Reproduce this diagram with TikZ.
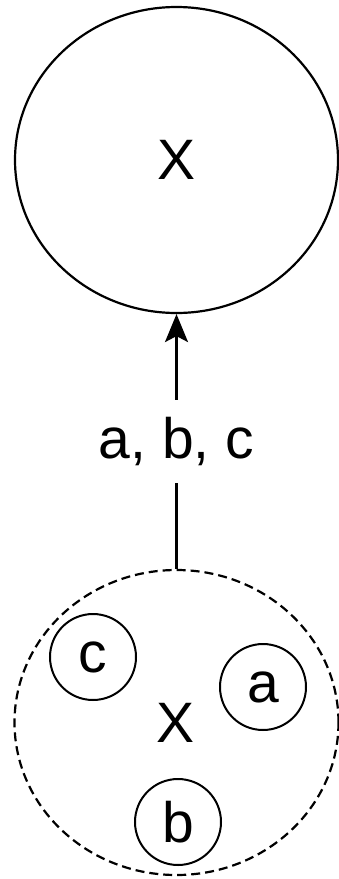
\documentclass[tikz,border=0pt]{standalone}
\usepackage{fontspec}
\setmainfont{Liberation Sans}
\usetikzlibrary{shapes.geometric,arrows.meta}
\begin{document}
\begin{tikzpicture}[x=1pt,y=-1pt,
  every node/.style={font=\fontsize{57}{60}\selectfont},
  bigell/.style={draw, ellipse, line width=2.2pt, inner sep=0pt},
  elem/.style={draw, circle, line width=2pt, inner sep=0pt, minimum size=86pt},
  conn/.style={line width=2.2pt, -{Stealth[length=28pt,width=23pt,inset=6pt]}}]
\useasboundingbox (0,0) rectangle (339,879);
\node[bigell, minimum width=323pt, minimum height=306pt] (top) at (176.5,160) {X};
\node[bigell, dash pattern=on 9pt off 5pt, minimum width=324pt, minimum height=305pt] (bot) at (176.5,722.5) {};
\node (bx) at (176,723) {X};
\node[elem] (c) at (93,657) {c};
\node[elem] (a) at (263,687) {a};
\node[elem] (b) at (178,822) {b};
\draw[conn] (bot.north) -- node[fill=white, inner xsep=2pt, inner ysep=17pt] (lbl) {a, b, c} (top.south);
\end{tikzpicture}
\end{document}
